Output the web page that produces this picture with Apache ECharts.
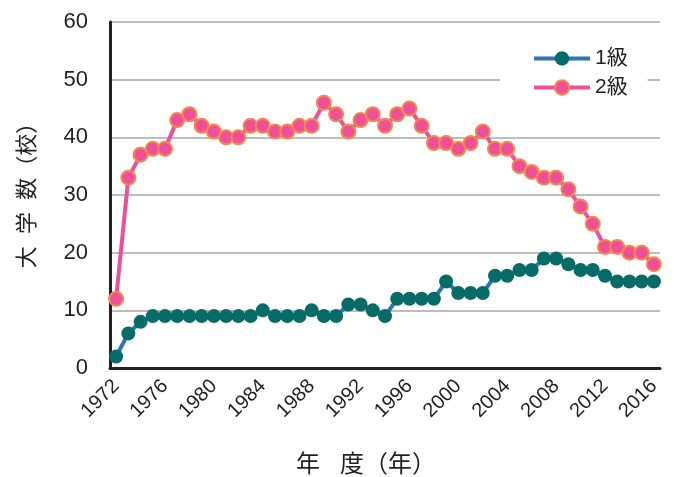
<!DOCTYPE html>
<html><head><meta charset="utf-8">
<script src="https://cdn.jsdelivr.net/npm/echarts@6/dist/echarts.min.js"></script>
<style>html,body{margin:0;padding:0;background:#fff}#c{width:674px;height:477px}</style>
</head><body><div id="c"></div>
<script>
const years = [];
for (let y = 1972; y <= 2016; y++) years.push(String(y));
const grade1 = [2,6,8,9,9,9,9,9,9,9,9,9,10,9,9,9,10,9,9,11,11,10,9,12,12,12,12,15,13,13,13,16,16,17,17,19,19,18,17,17,16,15,15,15,15];
const grade2 = [12,33,37,38,38,43,44,42,41,40,40,42,42,41,41,42,42,46,44,41,43,44,42,44,45,42,39,39,38,39,41,38,38,35,34,33,33,31,28,25,21,21,20,20,18];
const yTicks = [0,10,20,30,40,50,60];
const seriesNames = ['1級','2級'];
const FONT = '"Liberation Sans", "Noto Sans CJK JP", sans-serif';
const chart = echarts.init(document.getElementById('c'), null, {renderer:'canvas'});
chart.setOption({
  animation: false,
  backgroundColor: '#fff',
  grid: {left: 110, right: 14, top: 22, bottom: 109, outerBoundsMode: 'none', containLabel: false},
  legend: {
    left: 500, top: 29, orient: 'vertical',
    padding: [19, 20, 19, 32],
    backgroundColor: '#fff',
    itemWidth: 56, itemHeight: 18, itemGap: 8,
    lineStyle: {width: 4},
    textStyle: {fontSize: 21, color: '#231f20', fontFamily: FONT},
    data: seriesNames
  },
  xAxis: {
    type: 'category', data: years, boundaryGap: true,
    name: '年   度（年）', nameLocation: 'middle', nameGap: 85,
    nameTextStyle: {fontSize: 24, color: '#231f20', fontFamily: FONT, padding: [0, 38, 0, 0]},
    axisLine: {lineStyle: {color: '#231f20', width: 3}},
    axisTick: {show: false},
    axisLabel: {interval: 3, rotate: 45, fontSize: 20, color: '#231f20', fontFamily: FONT, margin: 15},
    splitLine: {show: false}
  },
  yAxis: {
    type: 'value', min: yTicks[0], max: yTicks[yTicks.length-1], interval: 10,
    name: '大  学  数（校）', nameLocation: 'middle', nameGap: 71, nameRotate: 90,
    nameTextStyle: {fontSize: 22, color: '#231f20', fontFamily: FONT, padding: [0, 0, 0, 10]},
    axisLine: {show: true, lineStyle: {color: '#231f20', width: 3}},
    axisTick: {show: false},
    axisLabel: {fontSize: 22, color: '#231f20', fontFamily: FONT, margin: 22},
    splitLine: {lineStyle: {color: '#bdbdbd', width: 2}}
  },
  series: [
    {
      name: seriesNames[0], type: 'line', data: grade1,
      symbol: 'circle', symbolSize: 14, showAllSymbol: true,
      lineStyle: {color: '#2e75b6', width: 4},
      itemStyle: {color: '#076b68'},
      z: 3
    },
    {
      name: seriesNames[1], type: 'line', data: grade2,
      symbol: 'circle', symbolSize: 14, showAllSymbol: true,
      lineStyle: {color: '#ee4f9b', width: 4},
      itemStyle: {color: '#ee4f9b', borderColor: '#f5874a', borderWidth: 2},
      z: 3
    }
  ]
});
</script></body></html>
